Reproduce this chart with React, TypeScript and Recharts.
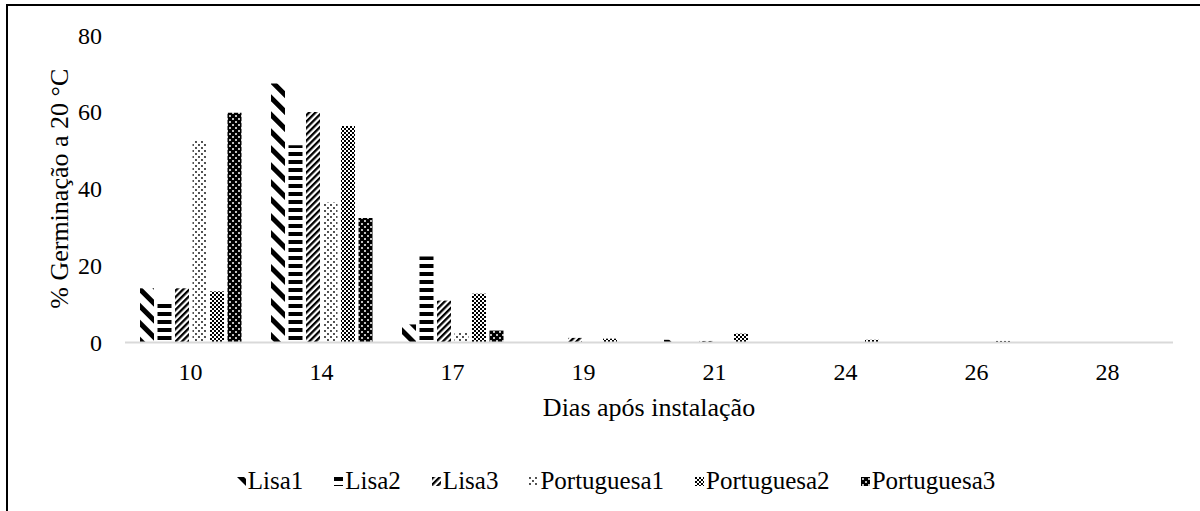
import { BarChart, Bar, XAxis, YAxis } from "recharts";

/* ── data ─────────────────────────────────────────────────────────── */

const days = ["10", "14", "17", "19", "21", "24", "26", "28"];

const lisa1 = [14.1, 67.4, 4.7, 0, 0.7, 0, 0, 0];
const lisa2 = [10.9, 51.3, 22.4, 0.3, 0, 0, 0, 0];
const lisa3 = [14.1, 60, 10.9, 1.2, 0.4, 0, 0, 0];
const portuguesa1 = [52.6, 36.4, 2.7, 0, 0, 0, 0, 0];
const portuguesa2 = [13.3, 56.3, 12.7, 1.0, 2.3, 0.7, 0.4, 0];
const portuguesa3 = [59.8, 32.4, 3.1, 0, 0, 0, 0, 0];

const yTicks = [0, 20, 40, 60, 80];

const series = [
  { key: "Lisa1", values: lisa1, pattern: "p-lisa1" },
  { key: "Lisa2", values: lisa2, pattern: "p-lisa2" },
  { key: "Lisa3", values: lisa3, pattern: "p-lisa3" },
  { key: "Portuguesa1", values: portuguesa1, pattern: "p-port1" },
  { key: "Portuguesa2", values: portuguesa2, pattern: "p-port2" },
  { key: "Portuguesa3", values: portuguesa3, pattern: "p-port3" },
];

const rows = days.map((d, i) => {
  const row: Record<string, string | number> = { day: d };
  series.forEach((s) => (row[s.key] = s.values[i]));
  return row;
});

const FONT = '"Liberation Serif", "Times New Roman", serif';

/* ── fill patterns ────────────────────────────────────────────────── */

function Patterns() {
  return (
    <defs>
      <pattern id="p-lisa1" width="12" height="12" patternUnits="userSpaceOnUse" patternTransform="rotate(-45)">
        <rect width="12" height="12" fill="#fff" />
        <rect width="5" height="12" fill="#000" />
      </pattern>
      <pattern id="p-lisa2" width="8" height="8" patternUnits="userSpaceOnUse">
        <rect width="8" height="8" fill="#fff" />
        <rect width="8" height="4" fill="#000" />
      </pattern>
      <pattern id="p-lisa3" width="4.5" height="4.5" patternUnits="userSpaceOnUse" patternTransform="rotate(45)">
        <rect width="4.5" height="4.5" fill="#fff" />
        <rect width="2.3" height="4.5" fill="#000" />
      </pattern>
      <pattern id="p-port1" width="6" height="6" patternUnits="userSpaceOnUse">
        <rect width="6" height="6" fill="#fff" />
        <circle cx="1" cy="1" r="0.9" fill="#000" />
        <circle cx="4" cy="4" r="0.9" fill="#000" />
      </pattern>
      <pattern id="p-port2" width="4" height="4" patternUnits="userSpaceOnUse">
        <rect width="4" height="4" fill="#fff" />
        <rect x="0" y="0" width="2" height="2" fill="#000" />
        <rect x="2" y="2" width="2" height="2" fill="#000" />
      </pattern>
      <pattern id="p-port3" width="6" height="6" patternUnits="userSpaceOnUse">
        <rect width="6" height="6" fill="#000" />
        <circle cx="2" cy="2" r="1" fill="#fff" />
        <circle cx="5" cy="5" r="1" fill="#fff" />
      </pattern>
    </defs>
  );
}

/* ── legend ───────────────────────────────────────────────────────── */

function PatternLegend() {
  return (
    <div
      style={{
        position: "absolute",
        left: 0,
        top: 466,
        width: 1232,
        display: "flex",
        justifyContent: "center",
        gap: 31,
        fontFamily: FONT,
        fontSize: 25,
        lineHeight: "30px",
        color: "#000",
      }}
    >
      {series.map((s) => (
        <div key={s.key} style={{ display: "flex", alignItems: "center" }}>
          <svg width="9" height="9" style={{ marginRight: 2 }}>
            <rect width="9" height="9" fill={`url(#${s.pattern})`} />
          </svg>
          <span>{s.key}</span>
        </div>
      ))}
    </div>
  );
}

export default function App() {
  return (
    <div style={{ position: "absolute", left: 0, top: 0, width: 1200, height: 511, overflow: "hidden", background: "#fff" }}>
      <div
        style={{
          position: "absolute",
          left: 6,
          top: 4,
          width: 1300,
          height: 600,
          borderLeft: "2px solid #000",
          borderTop: "2px solid #000",
        }}
      />
      <div style={{ position: "absolute", left: 0, top: 0 }}>
        <BarChart
          width={1200}
          height={511}
          data={rows}
          margin={{ top: 35, right: 27, left: 0, bottom: 138.5 }}
          barSize={14}
          barGap={3.5}
        >
          <Patterns />
          <XAxis
            dataKey="day"
            height={30}
            tickLine={false}
            tickSize={0}
            tickMargin={20}
            axisLine={{ stroke: "#d9d9d9", strokeWidth: 2 }}
            tick={{ fontSize: 24, fill: "#000", fontFamily: FONT }}
            label={{
              value: "Dias após instalação",
              position: "bottom",
              offset: 25.5,
              fontSize: 26,
              fill: "#000",
              fontFamily: FONT,
            }}
          />
          <YAxis
            width={125}
            domain={[0, 80]}
            ticks={yTicks}
            axisLine={false}
            tickLine={false}
            tickSize={0}
            tickMargin={23}
            tick={{ fontSize: 24, fill: "#000", fontFamily: FONT }}
            label={{
              value: "% Germinação a 20 °C",
              angle: -90,
              position: "center",
              dx: -4,
              fontSize: 26,
              fill: "#000",
              fontFamily: FONT,
            }}
          />
          {series.map((s) => (
            <Bar key={s.key} dataKey={s.key} fill={`url(#${s.pattern})`} isAnimationActive={false} />
          ))}
        </BarChart>
      </div>
      <PatternLegend />
    </div>
  );
}
